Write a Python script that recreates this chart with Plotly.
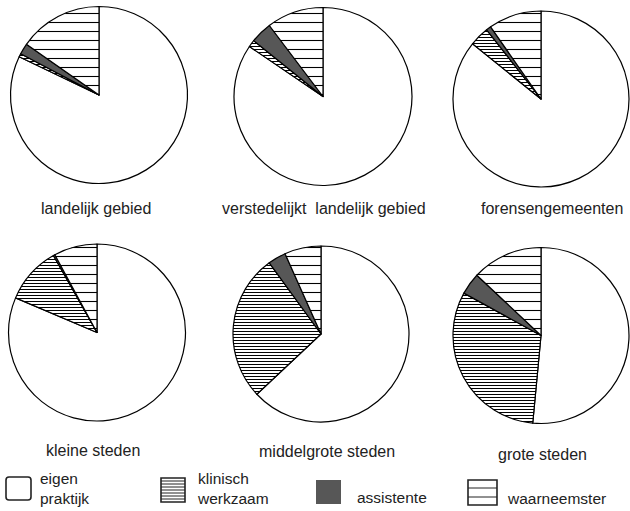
import plotly.graph_objects as go

# ---- data (percentages) ----
categories = ["eigen praktijk", "klinisch werkzaam", "assistente", "waarneemster"]
regions = ["landelijk gebied", "verstedelijkt landelijk gebied", "forensengemeenten",
           "kleine steden", "middelgrote steden", "grote steden"]
eigen_praktijk = [82.1, 84.5, 85.8, 81.4, 63.0, 51.5]
klinisch_werkzaam = [0.6, 1.3, 3.6, 10.4, 27.0, 31.5]
assistente = [2.0, 3.9, 0.9, 0.3, 3.3, 4.0]
waarneemster = [15.3, 10.3, 9.7, 7.9, 6.7, 13.0]
legend_labels = ["eigen<br>praktijk", "klinisch<br>werkzaam", "assistente", "waarneemster"]

# ---- layout helpers ----
W, H = 630, 511
def px(x):
    return x / W
def py(y):
    return 1 - y / H

FONT = "Liberation Sans, Arial, Helvetica, sans-serif"
GRAY = "#575757"

# pie centres / radii in pixels
geom = [(99, 95, 88.5), (323, 96.5, 89), (541, 99, 88),
        (97, 332.5, 88.5), (321, 334, 88), (541, 335.5, 88)]
label_pos = [(96, 208), (324, 208), (552, 208), (93, 450), (327, 451), (542, 454)]

fig = go.Figure()
for i, name in enumerate(regions):
    cx, cy, r = geom[i]
    vals = [eigen_praktijk[i], klinisch_werkzaam[i], assistente[i], waarneemster[i]]
    fig.add_trace(go.Pie(
        labels=categories, values=vals, name=name,
        sort=False, direction="clockwise", rotation=0,
        textinfo="none", hoverinfo="label+percent",
        showlegend=False,
        domain=dict(x=[px(cx - r), px(cx + r)], y=[py(cy + r), py(cy - r)]),
        marker=dict(
            colors=["white", "white", GRAY, "white"],
            line=dict(color="black", width=1.2),
            pattern=dict(shape=["", "-", "", "-"],
                         size=[8, 3, 8, 9],
                         solidity=[0.2, 0.33, 0.2, 0.12],
                         fgcolor="black",
                         bgcolor=["white", "white", GRAY, "white"]),
        ),
    ))

annotations = []
for i, name in enumerate(regions):
    x, y = label_pos[i]
    txt = name.replace("verstedelijkt ", "verstedelijkt\u00a0 ")
    annotations.append(dict(x=px(x), y=py(y), xref="paper", yref="paper",
                            text=txt, showarrow=False, xanchor="center", yanchor="middle",
                            font=dict(family=FONT, size=16, color="#222")))

legend_pos = [(38, 488), (195, 488), (355, 497), (505, 498)]
for t, (x, y) in zip(legend_labels, legend_pos):
    annotations.append(dict(x=px(x), y=py(y), xref="paper", yref="paper",
                            text=t, showarrow=False, xanchor="left", yanchor="middle",
                            align="left",
                            font=dict(family=FONT, size=15.5, color="#222")))

shapes = []
# eigen praktijk swatch (rounded empty box)
x0, x1, y0, y1, rr = 6, 31, 477, 500, 3
path = (f"M{px(x0 + rr)},{py(y0)} L{px(x1 - rr)},{py(y0)} Q{px(x1)},{py(y0)} {px(x1)},{py(y0 + rr)} "
        f"L{px(x1)},{py(y1 - rr)} Q{px(x1)},{py(y1)} {px(x1 - rr)},{py(y1)} "
        f"L{px(x0 + rr)},{py(y1)} Q{px(x0)},{py(y1)} {px(x0)},{py(y1 - rr)} "
        f"L{px(x0)},{py(y0 + rr)} Q{px(x0)},{py(y0)} {px(x0 + rr)},{py(y0)} Z")
shapes.append(dict(type="path", xref="paper", yref="paper", path=path,
                   line=dict(color="#222", width=1.6), fillcolor="white"))
# klinisch werkzaam swatch (dense lines)
shapes.append(dict(type="rect", xref="paper", yref="paper",
                   x0=px(161), x1=px(185), y0=py(502), y1=py(478),
                   line=dict(color="#222", width=1.6), fillcolor="white"))
for yy in range(481, 501, 3):
    shapes.append(dict(type="line", xref="paper", yref="paper",
                       x0=px(161), x1=px(185), y0=py(yy), y1=py(yy),
                       line=dict(color="#222", width=1)))
# assistente swatch
shapes.append(dict(type="rect", xref="paper", yref="paper",
                   x0=px(316), x1=px(341), y0=py(504), y1=py(480),
                   line=dict(width=0), fillcolor=GRAY))
# waarneemster swatch
shapes.append(dict(type="rect", xref="paper", yref="paper",
                   x0=px(468), x1=px(497), y0=py(505), y1=py(480),
                   line=dict(color="#222", width=1.6), fillcolor="white"))
for yy in (488, 497):
    shapes.append(dict(type="line", xref="paper", yref="paper",
                       x0=px(468), x1=px(497), y0=py(yy), y1=py(yy),
                       line=dict(color="#222", width=1)))

fig.update_layout(width=W, height=H, margin=dict(l=0, r=0, t=0, b=0),
                  paper_bgcolor="white", plot_bgcolor="white",
                  annotations=annotations, shapes=shapes)
fig.write_html("out.html", config={"displayModeBar": False},
               post_script="document.body.style.margin='0';document.body.style.padding='0';")
